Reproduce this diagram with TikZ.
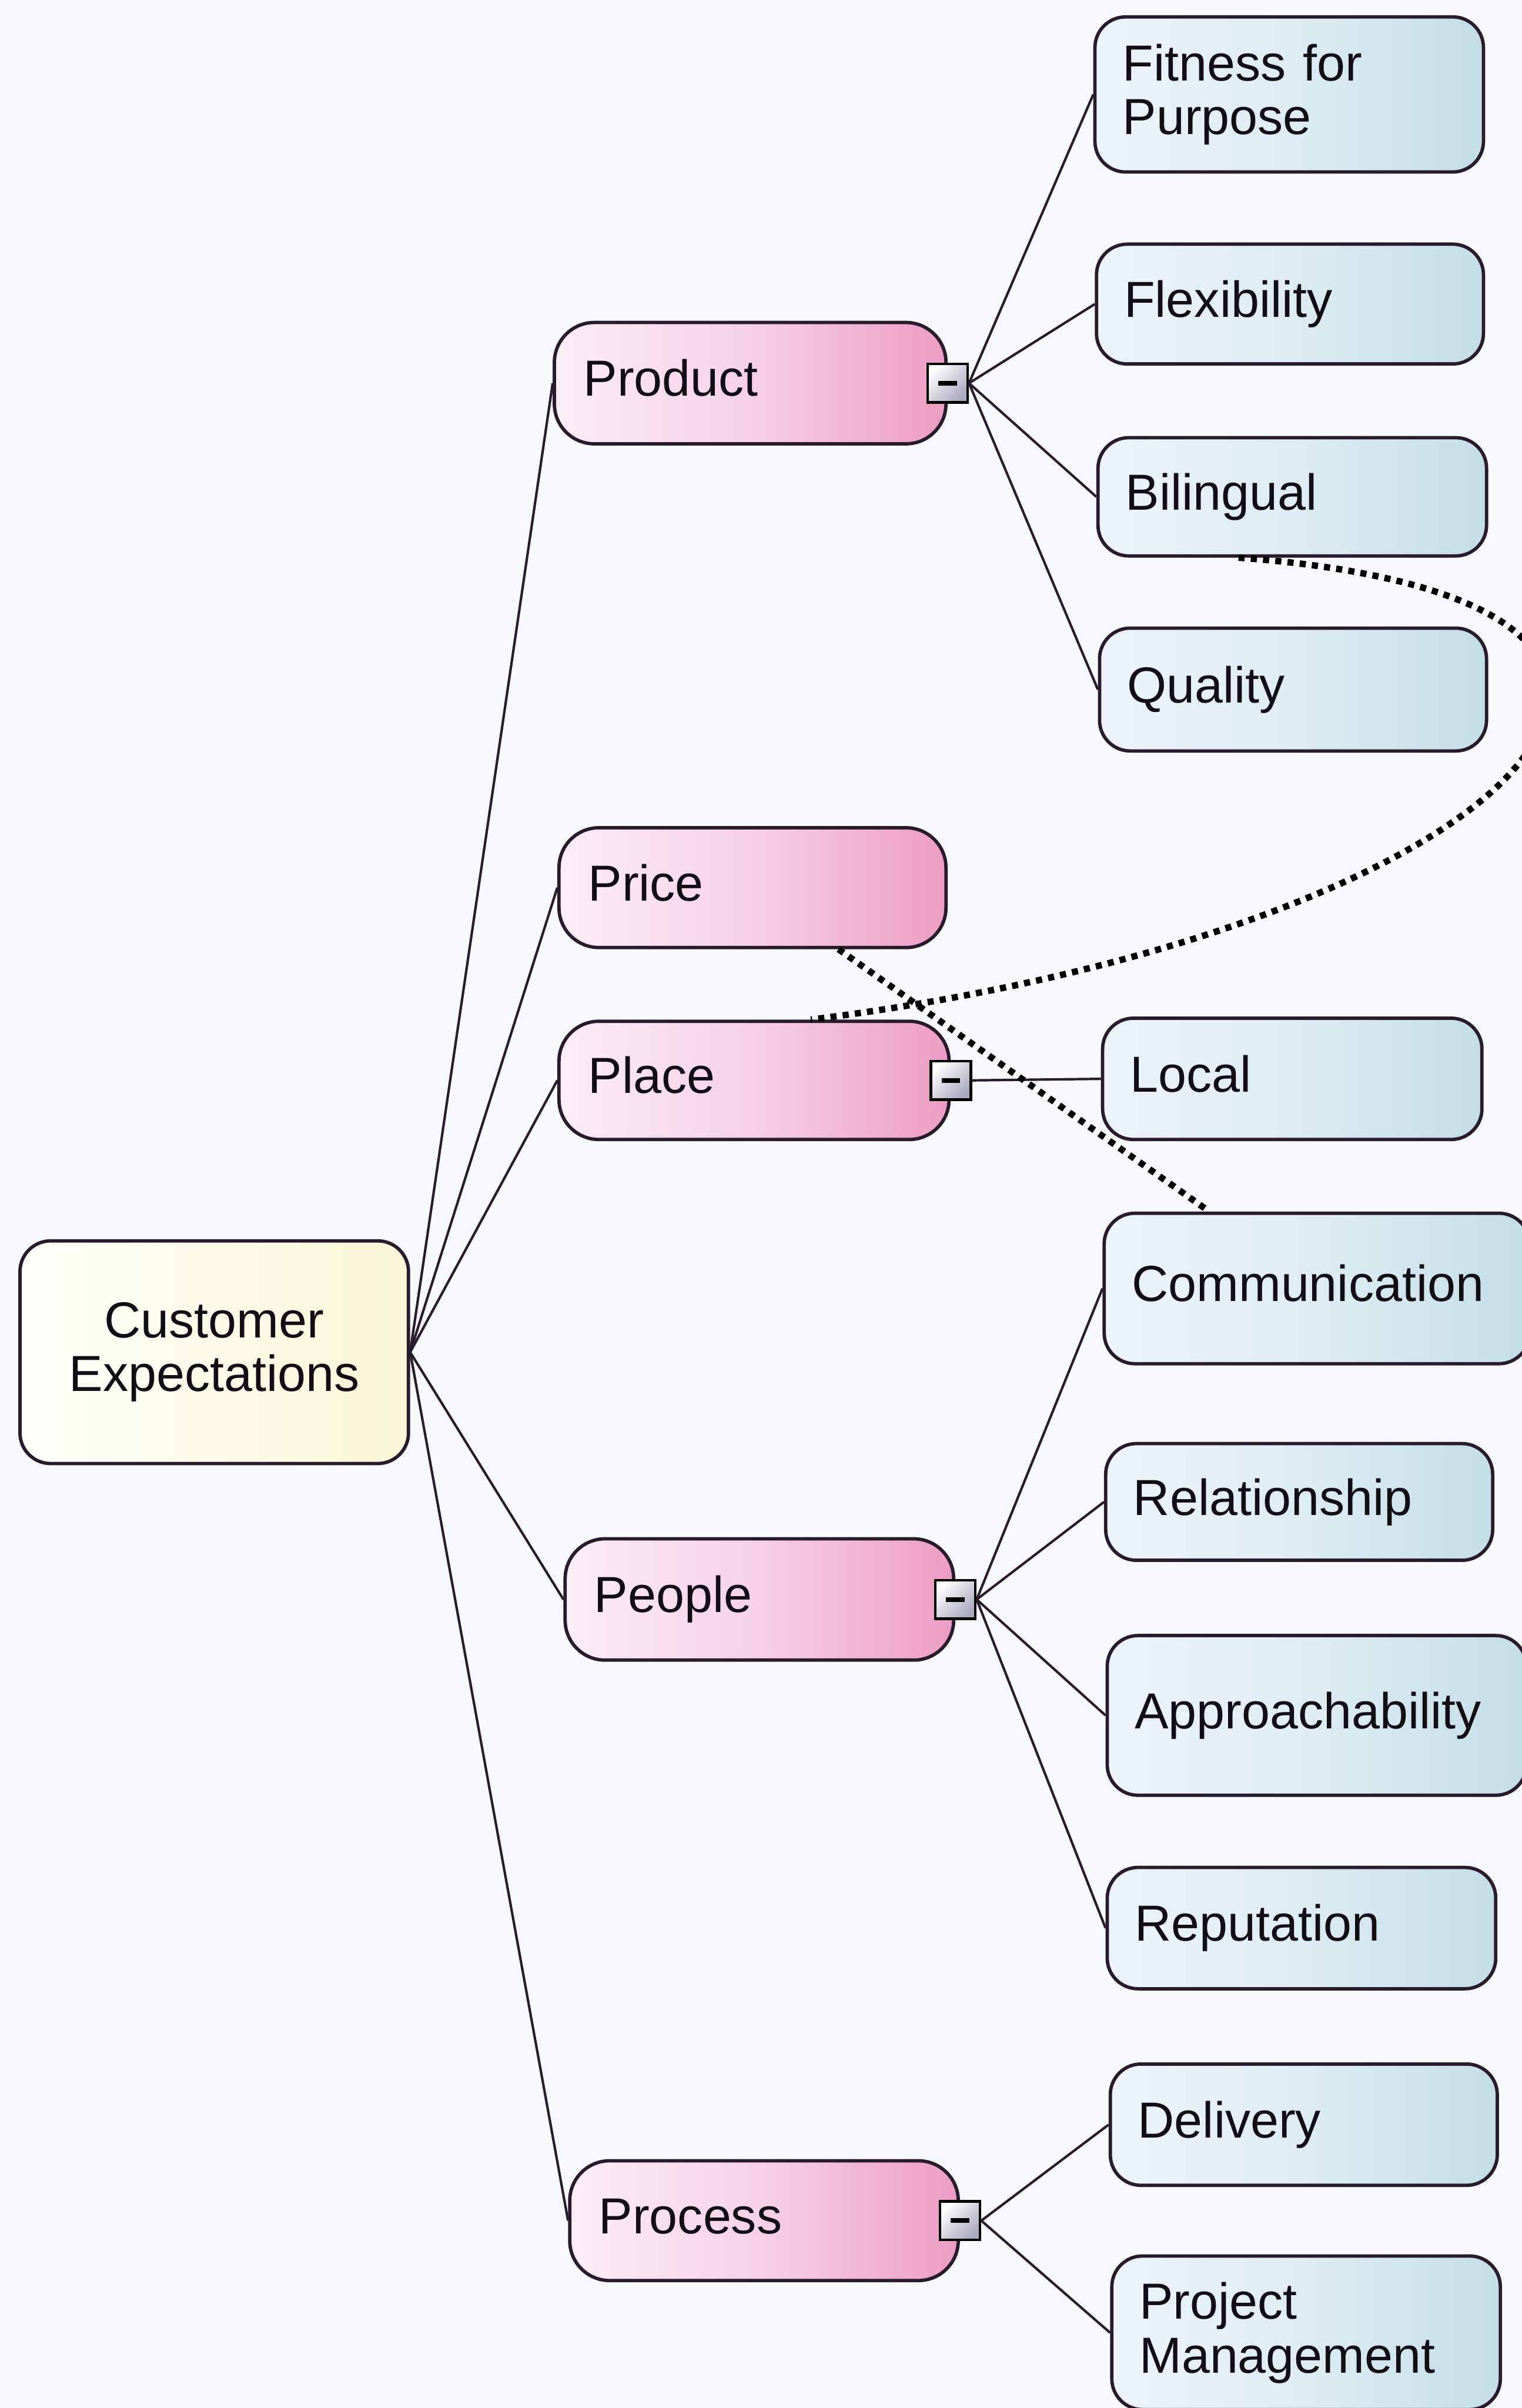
\documentclass[tikz,border=0pt]{standalone}
\usepackage{fontspec}
\setmainfont{Liberation Sans}
\usetikzlibrary{calc}

\definecolor{paper}{RGB}{248,249,253}
\definecolor{ink}{RGB}{18,14,22}
\definecolor{edge}{RGB}{40,28,44}
\definecolor{pinkL}{RGB}{252,238,247}
\definecolor{pinkM}{RGB}{246,208,230}
\definecolor{pinkR}{RGB}{237,156,196}
\definecolor{blueL}{RGB}{236,244,249}
\definecolor{blueM}{RGB}{222,236,243}
\definecolor{blueR}{RGB}{196,222,230}
\definecolor{creamL}{RGB}{255,255,251}
\definecolor{creamR}{RGB}{249,246,214}
\definecolor{boxgray}{RGB}{170,170,192}

\tikzset{
  every node/.style={font=\fontsize{33}{35}\selectfont, text=ink},
  boxbase/.style={draw=edge, line width=2.2pt, inner xsep=18pt, inner ysep=0pt, align=left},
  oneline/.style={text height=24pt, text depth=7pt},
  catbox/.style={boxbase, oneline, rounded corners=26pt, inner xsep=19pt,
    left color=pinkL, right color=pinkR, middle color=pinkM},
  leafbox/.style={boxbase, rounded corners=20pt,
    left color=blueL, right color=blueR, middle color=blueM},
  rootbox/.style={boxbase, rounded corners=20pt, align=center,
    left color=creamL, right color=creamR},
  toggle/.style={draw=black, line width=1.8pt, minimum width=26pt, minimum height=25pt,
    inner sep=0pt, top color=white, bottom color=boxgray, shading angle=45,
    path picture={\draw[line width=3pt, black]
      ([xshift=-6pt]path picture bounding box.center) --
      ([xshift=6pt]path picture bounding box.center);}},
  branch/.style={draw=edge, line width=1.6pt},
  link/.style={draw=black, line width=4.2pt, dash pattern=on 4pt off 4pt},
}

\begin{document}
\begin{tikzpicture}[x=1pt, y=-1pt]
\useasboundingbox (0,0) rectangle (991,1568);
\clip (0,0) rectangle (991,1568);
\fill[paper] (0,0) rectangle (991,1568);

% root
\node[rootbox, text width=217pt, minimum height=145pt] (ce) at (139.5,880.5) {Customer\\Expectations};

% first level
\node[catbox, text width=217pt, minimum height=79pt] (prod)    at (488.5,249.5) {Product};
\node[catbox, text width=214pt, minimum height=78pt] (price)   at (490,578)     {Price};
\node[catbox, text width=216pt, minimum height=77pt] (place)   at (491,703.5)   {Place};
\node[catbox, text width=215pt, minimum height=79pt] (people)  at (494.5,1041.5){People};
\node[catbox, text width=215pt, minimum height=78pt] (process) at (497.5,1446)  {Process};

% second level
\node[leafbox, text width=217pt, minimum height=101pt] (fit)   at (839.5,61.5)  {Fitness for\\Purpose};
\node[leafbox, oneline, text width=216pt, minimum height=78pt]  (flex)  at (840,198)     {Flexibility};
\node[leafbox, oneline, text width=217pt, minimum height=77pt]  (bil)   at (841.5,323.5) {Bilingual};
\node[leafbox, oneline, text width=216pt, minimum height=80pt]  (qual)  at (842,449)     {Quality};
\node[leafbox, oneline, text width=211pt, minimum height=79pt]  (local) at (841.5,702.5) {Local};
\node[leafbox, oneline, text width=241pt, minimum height=98pt]  (comm)  at (857.5,839)   {Communication};
\node[leafbox, oneline, text width=216pt, minimum height=76pt]  (rel)   at (846,978)     {Relationship};
\node[leafbox, oneline, text width=237pt, minimum height=104pt] (appr)  at (857.5,1117)  {Approachability};
\node[leafbox, oneline, text width=217pt, minimum height=79pt]  (rep)   at (847.5,1255.5){Reputation};
\node[leafbox, oneline, text width=216pt, minimum height=79pt]  (deliv) at (849,1383.5)  {Delivery};
\node[leafbox, text width=217pt, minimum height=100pt] (pm)    at (850.5,1519)  {Project\\Management};

% collapse toggles
\node[toggle] (prodm)    at (prod.east)    {};
\node[toggle] (placem)   at (place.east)   {};
\node[toggle] (peoplem)  at (people.east)  {};
\node[toggle] (processm) at (process.east) {};

% branches from the root
\foreach \n in {prod,price,place,people,process}
  \draw[branch] (ce.east) -- (\n.west);

% branches to the attributes
\foreach \n in {fit,flex,bil,qual}
  \draw[branch] (prodm.east) -- (\n.west);
\draw[branch] (placem.east) -- (local.west);
\foreach \n in {comm,rel,appr,rep}
  \draw[branch] (peoplem.east) -- (\n.west);
\foreach \n in {deliv,pm}
  \draw[branch] (processm.east) -- (\n.west);

% dotted relationship lines (the first one loops out past the right margin)
\coordinate (l1a) at ([xshift=-35pt]bil.south);
\coordinate (l1b) at ([xshift=37pt]place.north);
\coordinate (l1m) at (1008,448);
\draw[link] (l1a) .. controls (900,370) and (1003,392) .. (l1m)
                  .. controls (1013,535) and (800,630) .. (l1b);
\coordinate (l2a) at ([xshift=56pt]price.south);
\coordinate (l2b) at ([xshift=-70pt]comm.north);
\draw[link] (l2a) -- (l2b);
\end{tikzpicture}
\end{document}
